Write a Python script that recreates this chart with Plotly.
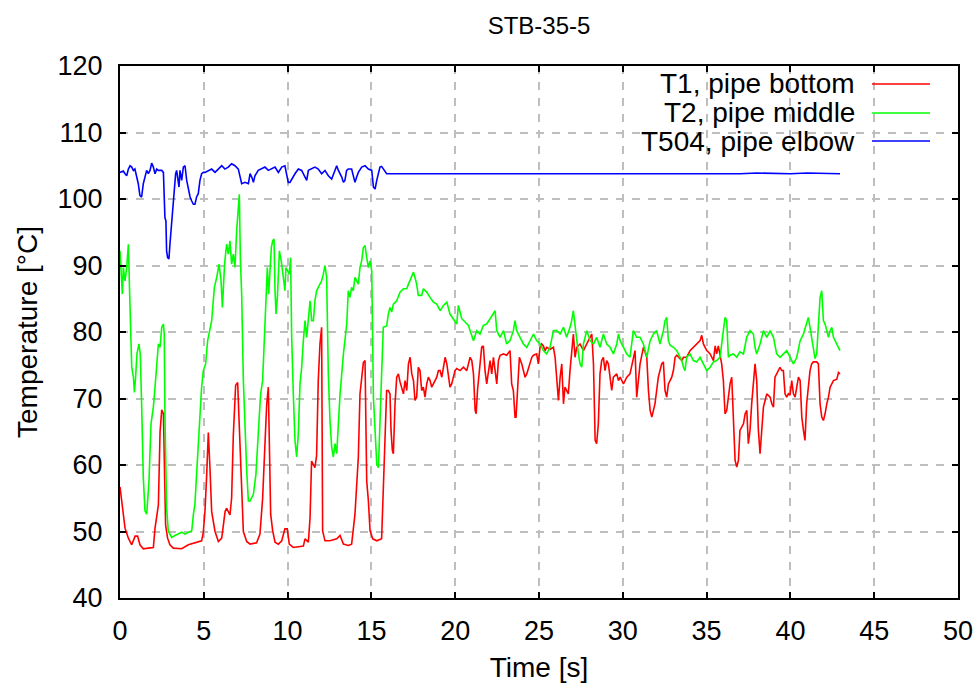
import plotly.graph_objects as go

# T1, pipe bottom (red)
t1_time = [
    0.00, 0.14, 0.30, 0.50, 0.70, 0.90, 1.05, 1.19, 1.39, 1.69,
    1.99, 2.09, 2.19, 2.29, 2.39, 2.49, 2.59, 2.64, 2.68, 2.72,
    2.84, 2.98, 3.18, 3.68, 4.08, 4.47, 4.87, 4.97, 5.07, 5.17,
    5.27, 5.37, 5.47, 5.67, 5.87, 6.07, 6.27, 6.36, 6.56, 6.66,
    6.76, 6.90, 7.02, 7.10, 7.22, 7.36, 7.56, 7.76, 8.15, 8.35,
    8.51, 8.59, 8.65, 8.75, 8.85, 8.91, 8.99, 9.11, 9.25, 9.45,
    9.65, 9.84, 9.98, 10.10, 10.34, 10.94, 11.04, 11.24, 11.34, 11.43,
    11.63, 11.73, 11.83, 11.93, 12.03, 12.09, 12.23, 12.53, 12.93, 13.13,
    13.33, 13.62, 13.82, 14.02, 14.12, 14.22, 14.32, 14.42, 14.52, 14.62,
    14.72, 14.82, 14.92, 15.08, 15.32, 15.61, 15.81, 15.91, 16.01, 16.11,
    16.17, 16.25, 16.31, 16.35, 16.41, 16.51, 16.61, 16.71, 16.81, 16.91,
    17.01, 17.11, 17.21, 17.31, 17.41, 17.51, 17.60, 17.70, 17.80, 17.90,
    18.00, 18.10, 18.20, 18.30, 18.40, 18.50, 18.60, 18.70, 18.80, 18.90,
    19.00, 19.10, 19.20, 19.30, 19.40, 19.50, 19.60, 19.69, 19.79, 19.89,
    19.99, 20.09, 20.29, 20.49, 20.69, 20.79, 20.89, 20.99, 21.09, 21.19,
    21.25, 21.33, 21.44, 21.58, 21.68, 21.78, 21.88, 21.98, 22.08, 22.18,
    22.28, 22.38, 22.48, 22.58, 22.68, 22.88, 23.07, 23.27, 23.37, 23.47,
    23.57, 23.63, 23.71, 23.83, 23.97, 24.07, 24.17, 24.27, 24.47, 24.57,
    24.67, 24.86, 24.96, 25.06, 25.16, 25.26, 25.36, 25.46, 25.66, 25.86,
    25.96, 26.06, 26.16, 26.26, 26.36, 26.46, 26.55, 26.65, 26.75, 26.85,
    26.95, 27.05, 27.15, 27.25, 27.45, 27.65, 27.85, 28.05, 28.15, 28.25,
    28.35, 28.44, 28.54, 28.64, 28.74, 28.84, 28.94, 29.04, 29.14, 29.24,
    29.34, 29.44, 29.64, 29.74, 29.84, 30.04, 30.24, 30.43, 30.63, 30.73,
    30.83, 31.03, 31.23, 31.33, 31.43, 31.53, 31.63, 31.73, 31.83, 31.92,
    32.02, 32.12, 32.22, 32.32, 32.42, 32.52, 32.62, 32.72, 32.82, 32.92,
    33.02, 33.12, 33.22, 33.42, 33.52, 33.62, 33.81, 34.01, 34.21, 34.41,
    34.61, 34.71, 34.81, 34.91, 35.01, 35.21, 35.31, 35.41, 35.51, 35.60,
    35.70, 35.80, 35.90, 36.00, 36.10, 36.20, 36.30, 36.40, 36.50, 36.60,
    36.70, 36.80, 36.90, 36.99, 37.10, 37.20, 37.30, 37.40, 37.49, 37.59,
    37.69, 37.79, 37.89, 37.99, 38.09, 38.19, 38.29, 38.39, 38.49, 38.59,
    38.79, 38.89, 38.99, 39.08, 39.18, 39.38, 39.48, 39.58, 39.68, 39.78,
    39.88, 39.98, 40.08, 40.18, 40.28, 40.38, 40.48, 40.58, 40.68, 40.78,
    40.87, 40.97, 41.07, 41.17, 41.27, 41.37, 41.57, 41.67, 41.77, 41.87,
    41.97, 42.07, 42.17, 42.27, 42.37, 42.47, 42.57, 42.77, 42.87, 42.96,
]
t1_temp = [
    56.7, 53.5, 50.5, 49.0, 48.0, 49.3, 49.3, 48.0, 47.4, 47.5,
    47.6, 50.5, 52.5, 54.0, 65.0, 68.3, 67.7, 62.5, 56.0, 51.0,
    49.0, 48.0, 47.5, 47.4, 48.0, 48.3, 48.6, 49.9, 53.0, 58.4,
    64.9, 59.4, 53.0, 50.0, 48.5, 49.0, 53.0, 53.5, 52.5, 55.0,
    64.4, 72.0, 72.4, 67.0, 59.4, 50.0, 48.5, 48.1, 48.3, 49.6,
    55.0, 60.0, 65.4, 69.0, 71.7, 61.6, 52.6, 50.1, 48.4, 48.1,
    48.6, 50.4, 50.4, 48.1, 47.6, 47.8, 48.9, 48.4, 52.1, 60.6,
    59.6, 61.4, 72.7, 78.2, 80.7, 50.1, 48.6, 48.6, 48.9, 49.4,
    48.1, 47.9, 48.1, 52.6, 56.6, 61.2, 70.7, 72.7, 75.4, 75.7,
    57.6, 54.6, 50.1, 48.9, 48.6, 48.9, 65.7, 71.2, 71.2, 70.7,
    65.2, 62.2, 61.7, 64.7, 69.2, 73.2, 73.7, 72.5, 71.7, 70.7,
    72.7, 71.2, 75.2, 76.2, 73.7, 72.7, 69.7, 70.2, 74.7, 74.2,
    71.2, 71.7, 70.2, 72.2, 73.2, 72.7, 71.7, 72.2, 72.7, 73.2,
    74.2, 74.2, 73.2, 74.7, 76.2, 75.2, 73.2, 71.7, 72.2, 73.2,
    74.2, 74.5, 74.2, 74.7, 74.2, 75.2, 76.2, 75.7, 73.7, 68.2,
    67.7, 71.2, 74.2, 77.7, 77.9, 74.2, 72.2, 74.2, 75.7, 73.7,
    76.2, 74.2, 72.2, 75.7, 76.5, 76.7, 76.5, 77.2, 72.2, 71.2,
    67.2, 67.2, 71.2, 76.2, 75.2, 74.2, 73.2, 73.7, 75.2, 76.2,
    76.5, 76.7, 75.2, 77.7, 78.2, 77.9, 77.2, 77.7, 77.4, 77.7,
    76.2, 73.2, 69.7, 73.2, 75.2, 69.2, 71.7, 71.2, 70.7, 74.2,
    77.2, 79.7, 76.2, 77.7, 78.2, 77.2, 78.2, 79.2, 79.7, 75.2,
    63.7, 63.2, 66.2, 73.7, 75.7, 76.2, 74.2, 75.7, 75.2, 73.2,
    71.2, 73.2, 73.7, 72.7, 73.2, 72.2, 73.2, 73.7, 76.2, 77.2,
    70.2, 75.2, 77.7, 76.9, 76.2, 71.2, 68.2, 67.2, 68.2, 69.2,
    71.2, 73.2, 74.2, 75.2, 75.5, 71.2, 70.2, 72.2, 72.7, 73.2,
    74.2, 76.2, 76.5, 75.9, 75.7, 76.2, 76.2, 77.2, 77.7, 78.2,
    78.7, 79.5, 78.2, 77.7, 77.2, 76.7, 76.2, 75.7, 77.9, 76.7,
    77.9, 76.2, 75.2, 72.7, 67.7, 68.2, 70.2, 72.2, 73.2, 65.2,
    60.7, 59.7, 60.7, 65.2, 65.7, 66.2, 67.7, 68.2, 63.2, 65.2,
    69.2, 72.2, 75.2, 72.7, 65.2, 61.7, 66.2, 68.7, 69.7, 70.7,
    70.2, 69.2, 68.7, 73.2, 73.7, 74.7, 74.2, 74.2, 70.7, 70.2,
    70.7, 70.5, 72.7, 70.7, 70.2, 71.7, 73.2, 72.7, 67.2, 65.2,
    63.7, 69.2, 72.2, 74.2, 75.2, 75.5, 75.5, 75.2, 69.2, 67.2,
    66.7, 67.7, 69.2, 70.2, 71.7, 72.2, 72.7, 72.9, 73.9, 73.7,
]

# T2, pipe middle (green)
t2_time = [
    0.00, 0.14, 0.20, 0.30, 0.40, 0.50, 0.56, 0.62, 0.70, 0.80,
    0.86, 0.93, 1.01, 1.13, 1.21, 1.29, 1.39, 1.49, 1.59, 1.65,
    1.73, 1.85, 1.99, 2.09, 2.19, 2.29, 2.39, 2.49, 2.59, 2.64,
    2.68, 2.78, 2.88, 3.08, 3.28, 3.48, 3.68, 3.88, 4.08, 4.28,
    4.38, 4.47, 4.57, 4.67, 4.77, 4.87, 4.97, 5.11, 5.23, 5.37,
    5.47, 5.63, 5.77, 5.91, 6.03, 6.11, 6.24, 6.36, 6.46, 6.56,
    6.66, 6.76, 6.86, 6.96, 7.06, 7.12, 7.18, 7.26, 7.36, 7.46,
    7.56, 7.66, 7.76, 7.96, 8.11, 8.25, 8.39, 8.51, 8.59, 8.71,
    8.79, 8.87, 8.95, 9.03, 9.11, 9.19, 9.25, 9.31, 9.39, 9.51,
    9.65, 9.74, 9.84, 9.90, 9.98, 10.10, 10.18, 10.24, 10.34, 10.44,
    10.54, 10.64, 10.74, 10.84, 10.94, 11.04, 11.14, 11.24, 11.34, 11.44,
    11.54, 11.63, 11.73, 11.83, 11.93, 12.03, 12.13, 12.23, 12.33, 12.43,
    12.53, 12.63, 12.73, 12.83, 12.93, 13.03, 13.13, 13.33, 13.53, 13.62,
    13.72, 13.82, 13.92, 14.02, 14.12, 14.22, 14.32, 14.42, 14.52, 14.62,
    14.72, 14.82, 14.92, 15.02, 15.12, 15.22, 15.32, 15.42, 15.51, 15.61,
    15.71, 15.91, 16.01, 16.11, 16.21, 16.31, 16.51, 16.71, 16.91, 17.11,
    17.21, 17.41, 17.51, 17.60, 17.70, 17.80, 18.00, 18.10, 18.30, 18.50,
    18.70, 18.90, 19.10, 19.30, 19.50, 19.69, 19.89, 20.09, 20.19, 20.29,
    20.39, 20.59, 20.79, 20.89, 21.09, 21.28, 21.48, 21.68, 21.88, 22.08,
    22.28, 22.38, 22.48, 22.68, 22.88, 23.07, 23.27, 23.47, 23.57, 23.67,
    23.87, 24.07, 24.27, 24.47, 24.67, 24.86, 25.06, 25.26, 25.46, 25.66,
    25.86, 26.06, 26.26, 26.46, 26.65, 26.85, 26.95, 27.05, 27.15, 27.25,
    27.35, 27.45, 27.55, 27.65, 27.85, 28.05, 28.25, 28.44, 28.64, 28.84,
    29.04, 29.24, 29.44, 29.64, 29.74, 29.84, 30.04, 30.24, 30.43, 30.63,
    30.83, 31.03, 31.23, 31.43, 31.63, 31.83, 32.02, 32.22, 32.42, 32.52,
    32.62, 32.72, 32.82, 33.02, 33.22, 33.42, 33.52, 33.62, 33.71, 33.81,
    34.01, 34.21, 34.41, 34.61, 34.81, 35.01, 35.21, 35.41, 35.60, 35.80,
    35.90, 36.00, 36.10, 36.20, 36.30, 36.40, 36.60, 36.80, 36.99, 37.20,
    37.39, 37.59, 37.79, 37.89, 37.99, 38.19, 38.39, 38.59, 38.79, 38.99,
    39.18, 39.38, 39.58, 39.78, 39.88, 39.98, 40.18, 40.38, 40.58, 40.68,
    40.78, 40.87, 40.97, 41.07, 41.17, 41.27, 41.37, 41.47, 41.57, 41.67,
    41.77, 41.87, 41.97, 42.07, 42.17, 42.27, 42.37, 42.47, 42.57, 42.77,
    42.96,
]
t2_temp = [
    92.2, 85.7, 89.7, 87.7, 89.7, 93.2, 87.2, 82.2, 74.7, 73.2,
    70.9, 73.2, 76.7, 78.2, 76.7, 69.2, 58.1, 53.1, 52.6, 54.6,
    57.6, 66.2, 68.7, 71.7, 74.7, 78.2, 77.7, 80.7, 81.2, 79.7,
    67.7, 53.6, 50.1, 49.1, 49.4, 49.6, 49.9, 49.6, 49.9, 50.1,
    52.6, 54.1, 58.6, 63.6, 67.7, 71.7, 74.2, 75.2, 78.7, 80.2,
    81.7, 86.7, 88.2, 90.2, 87.7, 83.7, 90.2, 93.2, 91.7, 93.7,
    90.2, 91.7, 89.7, 95.2, 98.2, 100.7, 91.2, 85.7, 72.7, 65.2,
    59.1, 54.6, 54.6, 55.6, 58.6, 64.7, 70.7, 72.7, 78.2, 86.7,
    89.7, 85.7, 88.7, 92.7, 93.7, 94.0, 86.2, 82.7, 85.2, 92.2,
    90.2, 88.2, 86.2, 89.7, 89.2, 88.7, 91.2, 79.7, 70.7, 63.7,
    61.2, 64.7, 72.2, 74.7, 78.7, 81.7, 79.2, 82.7, 84.7, 81.7,
    81.7, 84.7, 86.2, 86.7, 87.2, 87.7, 88.7, 90.0, 88.2, 73.7,
    66.7, 62.7, 61.2, 63.2, 61.7, 66.7, 70.7, 76.7, 81.2, 86.2,
    85.2, 86.7, 86.2, 88.2, 87.7, 87.2, 89.7, 90.7, 92.7, 93.0,
    91.2, 89.7, 90.7, 89.2, 70.2, 64.2, 60.1, 59.6, 67.7, 73.7,
    80.7, 80.9, 82.7, 83.7, 83.0, 84.2, 84.7, 86.0, 86.5, 86.5,
    87.2, 88.5, 89.0, 88.2, 87.2, 85.5, 85.5, 86.5, 86.0, 85.2,
    84.5, 84.2, 83.2, 84.0, 84.5, 82.7, 82.0, 81.2, 84.0, 83.0,
    82.0, 81.5, 81.0, 80.2, 78.7, 80.2, 79.7, 81.0, 81.2, 82.0,
    82.7, 83.2, 80.2, 79.2, 80.2, 78.2, 78.7, 80.2, 81.7, 80.2,
    79.2, 78.2, 77.7, 78.7, 79.7, 78.7, 78.2, 77.2, 76.7, 77.7,
    80.2, 80.2, 79.7, 80.7, 79.2, 80.7, 81.7, 83.2, 80.7, 78.7,
    76.7, 75.2, 74.7, 78.2, 80.2, 78.7, 78.2, 79.2, 77.7, 79.7,
    78.2, 77.7, 76.7, 78.2, 79.7, 78.7, 77.7, 76.7, 76.2, 80.2,
    79.2, 79.2, 78.2, 76.2, 78.7, 79.7, 80.2, 78.2, 80.2, 81.7,
    82.2, 78.7, 78.0, 77.7, 77.2, 76.2, 75.7, 74.7, 74.2, 76.2,
    76.7, 75.7, 75.5, 76.2, 75.2, 74.2, 74.7, 75.5, 75.7, 76.2,
    78.2, 80.7, 82.2, 81.7, 76.2, 76.5, 76.7, 76.2, 77.0, 76.7,
    79.2, 80.2, 79.7, 77.7, 76.7, 78.2, 80.2, 79.2, 80.2, 79.2,
    76.7, 76.2, 76.7, 77.2, 76.7, 76.2, 75.2, 76.2, 78.7, 79.2,
    79.7, 80.5, 81.2, 82.2, 80.7, 79.2, 77.2, 76.0, 76.7, 81.2,
    85.2, 86.2, 81.7, 81.2, 80.2, 79.2, 80.2, 80.7, 79.2, 78.2,
    77.2,
]

# T504, pipe elbow (blue)
t504_time = [
    0.00, 0.20, 0.30, 0.40, 0.50, 0.60, 0.70, 0.80, 0.89, 0.99,
    1.09, 1.19, 1.29, 1.39, 1.49, 1.59, 1.69, 1.79, 1.89, 1.99,
    2.09, 2.19, 2.29, 2.49, 2.59, 2.68, 2.74, 2.78, 2.84, 2.92,
    2.98, 3.04, 3.12, 3.24, 3.32, 3.38, 3.44, 3.52, 3.58, 3.68,
    3.78, 3.88, 3.98, 4.08, 4.18, 4.28, 4.38, 4.47, 4.57, 4.67,
    4.77, 4.87, 4.97, 5.07, 5.27, 5.47, 5.67, 5.87, 6.07, 6.26,
    6.46, 6.66, 6.86, 7.06, 7.16, 7.26, 7.46, 7.66, 7.76, 7.86,
    7.96, 8.05, 8.25, 8.45, 8.65, 8.85, 9.05, 9.25, 9.45, 9.65,
    9.84, 9.94, 10.04, 10.14, 10.24, 10.44, 10.64, 10.84, 11.04, 11.14,
    11.24, 11.44, 11.63, 11.83, 12.03, 12.23, 12.43, 12.63, 12.83, 12.93,
    13.03, 13.23, 13.33, 13.42, 13.52, 13.62, 13.82, 13.92, 14.02, 14.12,
    14.22, 14.42, 14.62, 14.82, 15.02, 15.12, 15.22, 15.32, 15.41, 15.51,
    15.61, 15.71, 15.81, 15.91, 16.21, 17.0, 18.0, 19.0, 20.0, 21.0,
    22.0, 23.0, 24.0, 25.0, 26.0, 27.0, 28.0, 29.0, 30.0, 31.0,
    32.0, 33.0, 34.0, 35.0, 36.0, 37.0, 38.0, 39.0, 40.0, 41.0,
    42.0, 42.96,
]
t504_temp = [
    104.0, 104.2, 103.8, 103.5, 104.5, 105.0, 104.8, 104.3, 104.5, 103.3,
    102.3, 100.5, 100.3, 102.3, 103.5, 104.3, 103.8, 104.3, 105.4, 104.8,
    103.8, 104.5, 104.3, 104.3, 104.0, 97.2, 96.7, 92.2, 91.2, 91.0,
    93.2, 95.2, 98.2, 100.8, 103.8, 104.3, 102.8, 101.8, 104.3, 102.8,
    104.8, 105.0, 102.8, 101.3, 100.3, 99.7, 99.2, 99.2, 100.3, 100.8,
    102.8, 103.8, 104.0, 104.0, 104.3, 104.5, 104.0, 104.5, 105.0, 104.5,
    104.8, 105.3, 105.0, 104.5, 103.3, 102.3, 102.5, 102.3, 103.8, 103.3,
    102.5, 103.5, 104.3, 104.5, 104.8, 104.3, 104.5, 104.8, 104.0, 104.8,
    105.0, 103.8, 102.5, 102.5, 103.0, 103.8, 104.5, 104.3, 103.3, 102.8,
    104.3, 104.5, 104.8, 104.5, 103.8, 104.3, 103.5, 103.0, 104.5, 105.0,
    104.3, 103.3, 102.5, 102.8, 104.3, 104.5, 104.5, 103.5, 102.5, 103.3,
    104.0, 104.8, 105.0, 104.5, 104.3, 101.8, 101.5, 102.8, 103.8, 104.8,
    104.9, 104.5, 104.0, 103.8, 103.8, 103.8, 103.7, 103.8, 103.7, 103.8,
    103.7, 103.8, 103.7, 103.8, 103.8, 103.7, 103.8, 103.8, 103.7, 103.8,
    103.8, 103.8, 103.7, 103.8, 103.8, 103.8, 103.9, 103.8, 103.8, 103.9,
    103.9, 103.8,
]

series_names = ["T1, pipe bottom", "T2, pipe middle", "T504, pipe elbow"]
series_colors = ["#ff0000", "#00ff00", "#0000ff"]
series_x = [t1_time, t2_time, t504_time]
series_y = [t1_temp, t2_temp, t504_temp]

FONT = "Liberation Sans, Arial, sans-serif"

fig = go.Figure()
for name, color, xs, ys in zip(series_names, series_colors, series_x, series_y):
    fig.add_trace(go.Scatter(
        x=xs, y=ys, mode="lines", name=name,
        line=dict(color=color, width=1.6),
        showlegend=False,
    ))

# gnuplot-style key: text on the left, line sample on the right
row_y = [0.9662, 0.9117, 0.8590]
for name, color, yy in zip(series_names, series_colors, row_y):
    fig.add_annotation(
        xref="paper", yref="paper", x=0.8795, y=yy,
        xanchor="right", yanchor="middle", showarrow=False,
        text=name, font=dict(family=FONT, size=28, color="black"),
    )
    fig.add_shape(
        type="line", xref="paper", yref="paper",
        x0=0.8974, x1=0.9666, y0=yy, y1=yy,
        line=dict(color=color, width=1.6),
    )

axis_common = dict(
    showgrid=True, gridcolor="#bebebe", gridwidth=1.5, griddash="8px,8px",
    showline=True, linecolor="black", linewidth=2, mirror="allticks",
    ticks="inside", ticklen=6, tickwidth=1.5, tickcolor="black",
    zeroline=False, automargin=False,
    tickfont=dict(family=FONT, size=27, color="black"),
    title_font=dict(family=FONT, size=28, color="black"),
)

fig.update_layout(
    template="none",
    width=979, height=683,
    margin=dict(l=120, r=21, t=66, b=85),
    paper_bgcolor="white", plot_bgcolor="white",
    title=dict(text="STB-35-5", x=0.5, xref="paper", y=0.963, yanchor="middle",
               font=dict(family=FONT, size=24, color="black")),
    xaxis=dict(range=[0, 50], tick0=0, dtick=5, ticklabelstandoff=8,
               title=dict(text="Time [s]", standoff=12), **axis_common),
    yaxis=dict(range=[40, 120], tick0=40, dtick=10, ticklabelstandoff=10,
               title=dict(text="Temperature [°C]", standoff=12), **axis_common),
)

fig.write_html(
    "out.html",
    config={"displayModeBar": False},
    post_script="document.body.style.margin='0';",
)
